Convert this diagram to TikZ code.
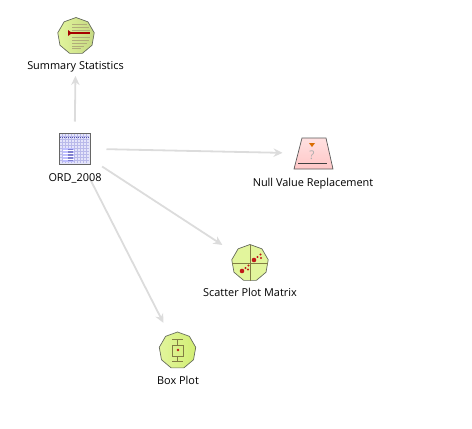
\documentclass[tikz,border=0pt]{standalone}
\usepackage{fontspec}
\setmainfont{Open Sans}
\usetikzlibrary{shapes.geometric,arrows.meta,backgrounds}
\definecolor{conn}{HTML}{DCDCDC}
\definecolor{lime}{HTML}{E2F59C}
\definecolor{limedark}{HTML}{D2EE74}
\definecolor{edge}{HTML}{666B5C}
\definecolor{dotred}{HTML}{C01818}
\definecolor{gridlav}{HTML}{B9B9EA}
\definecolor{celllav}{HTML}{E4E4FA}
\tikzset{
  lbl/.style={font=\fontsize{10.9}{12}\selectfont,text=black,inner sep=0pt},
  polyicon/.style={regular polygon,regular polygon sides=9,minimum size=37pt,inner sep=0pt,draw=edge,line width=0.7pt,left color=limedark,right color=lime,shading angle=0},
  polyflat/.style={polyicon,left color=lime,right color=lime},
  tableicon/.style={rectangle,minimum width=31pt,minimum height=31pt,inner sep=0pt,draw=black!60,line width=0.8pt,fill=celllav},
  nullicon/.style={draw=black!65,line width=0.7pt,top color=red!12,bottom color=red!22},
  link/.style={draw=conn,line width=1.8pt,-{Stealth[length=9pt,width=8.5pt]}},
  thin inner/.style={draw=olive!60!black!80,line width=0.5pt},
  reddot/.style={fill=dotred,draw=none}
}
\begin{document}
\begin{tikzpicture}[x=1pt,y=-1pt]
\useasboundingbox (0,0) rectangle (472,429);
% nodes
\node[polyicon,left color=lime,right color=limedark!70!gray!70!lime] (sum) at (76,36) {};
\node[lbl] (sumL) at (75.5,66.5) {Summary Statistics};
\node[tableicon] (ord) at (74.5,148.5) {};
\node[lbl] (ordL) at (75,178.5) {ORD\_2008};
\coordinate (nul) at (313.5,153.5);
\path[nullicon] (302,138) -- (326,138) -- (333,169) -- (294,169) -- cycle;
\node[lbl] (nulL) at (313,183.5) {Null Value Replacement};
\node[polyflat] (sca) at (250,263) {};
\node[lbl] (scaL) at (250,292.5) {Scatter Plot Matrix};
\node[polyicon,left color=lime,right color=limedark] (box) at (177.5,350.5) {};
\node[lbl] (boxL) at (178,380.5) {Box Plot};
% summary icon details
\foreach \yy/\xe in {24/87,27/89,30/90,37/90,40/89,43/87,46/84,48/81}
  \draw[draw=olive!45!gray!70,line width=1pt] (72,\yy) -- (\xe,\yy);
\draw[draw=red!65!black,line width=1.6pt] (69,33) -- (90,33);
\fill[red!65!black] (68,30) -- (72,33) -- (68,36) -- cycle;
% table icon details
\foreach \i in {1,...,9} \draw[gridlav,line width=0.7pt] (59.5+3*\i,134) -- (59.5+3*\i,163);
\foreach \i in {1,...,9} \draw[gridlav,line width=0.7pt] (60,133.5+3*\i) -- (89,133.5+3*\i);
\draw[blue!35!gray,line width=1pt,densely dotted] (60,137) -- (89,137);
\fill[blue!25] (63,148) rectangle (74,162);
\fill[blue!45!gray!70] (68,149) rectangle (73,161);
\foreach \i in {0,1,2,3} \draw[white,line width=0.7pt] (63,150.5+3*\i) -- (74,150.5+3*\i);
% null icon details
\fill[orange!85!black] (309,143) -- (315,143) -- (312,147) -- cycle;
\node[font=\fontsize{12}{12}\selectfont,text=black!32,inner sep=0pt] (q) at (312,155) {?};
\draw[black!75,line width=0.8pt] (298,163) -- (327,163);
% scatter icon details
\draw[thin inner] (232,263) -- (268,263);
\draw[thin inner] (250,245) -- (250,281);
\fill[reddot] (254,260) circle (2.3);
\fill[reddot] (242,271) circle (2.3);
\fill[reddot] (257.5,257) circle (1.1) (260.5,254.5) circle (1.1) (261,258) circle (1.1);
\fill[reddot] (245.5,268) circle (1.1) (248.5,265.5) circle (1.1) (248,269.5) circle (1.1);
% box icon details
\draw[thin inner] (172,339) -- (183,339);
\draw[thin inner] (172,361) -- (183,361);
\draw[thin inner] (177.5,339) -- (177.5,345);
\draw[thin inner] (177.5,356) -- (177.5,361);
\draw[thin inner] (172,345) rectangle (183,356);
\fill[reddot] (178,350) circle (1.4);
% connectors
\begin{pgfonlayer}{background}
\draw[link,shorten <=27pt,shorten >=40pt] (ord.center) -- (sum.center);
\draw[link,shorten <=32pt,shorten >=31pt] (ord.center) -- (nul);
\draw[link,shorten <=33pt,shorten >=33pt] (ord.center) -- (sca.center);
\draw[link,shorten <=33pt,shorten >=31pt] (ord.center) -- (box.center);
\end{pgfonlayer}
\end{tikzpicture}
\end{document}
